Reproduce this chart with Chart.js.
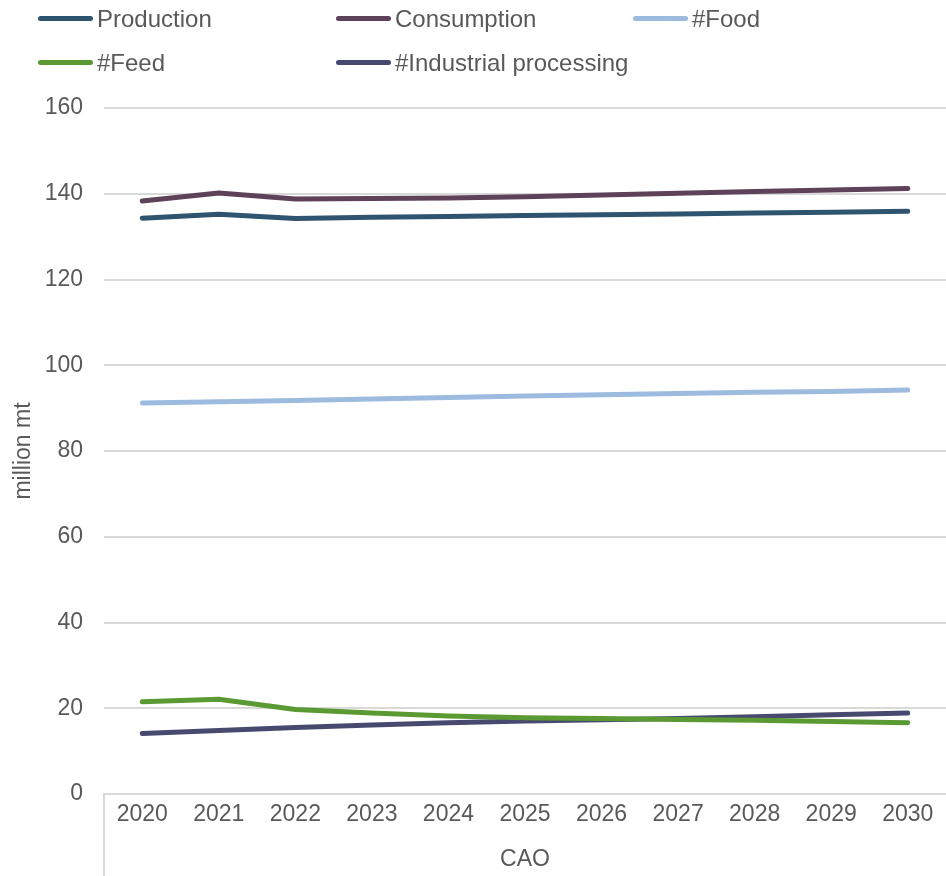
<!DOCTYPE html>
<html>
<head>
<meta charset="utf-8">
<script src="https://cdn.jsdelivr.net/npm/chart.js@4/dist/chart.umd.min.js"></script>
<style>
  html, body { margin: 0; padding: 0; background: #fff; }
  #wrap { position: relative; width: 946px; height: 876px; }
  #legend {
    position: absolute; left: 38px; top: 4px;
    display: grid; grid-template-columns: 298px 297px 280px; row-gap: 15px;
    font-family: "Liberation Sans", Arial, sans-serif; font-size: 24px; color: #595959;
  }
  .item { display: flex; align-items: center; height: 29px; }
  .swatch { width: 55px; height: 5px; border-radius: 3px; margin-right: 4px; }
</style>
</head>
<body>
<div id="wrap">
  <canvas id="chart" width="946" height="876"></canvas>
  <div id="legend"></div>
</div>
<script>
const years = ['2020', '2021', '2022', '2023', '2024', '2025', '2026', '2027', '2028', '2029', '2030'];
const production = [134.3, 135.2, 134.2, 134.5, 134.7, 134.9, 135.1, 135.3, 135.5, 135.7, 135.9];
const consumption = [138.3, 140.2, 138.8, 138.9, 139.0, 139.3, 139.7, 140.1, 140.5, 140.9, 141.2];
const food = [91.2, 91.5, 91.8, 92.1, 92.5, 92.8, 93.1, 93.4, 93.7, 93.9, 94.2];
const feed = [21.5, 22.1, 19.7, 18.9, 18.2, 17.8, 17.6, 17.4, 17.2, 16.9, 16.6];
const industrial = [14.1, 14.8, 15.5, 16.1, 16.6, 17.0, 17.3, 17.6, 18.0, 18.5, 18.9];

const seriesNames = ['Production', 'Consumption', '#Food', '#Feed', '#Industrial processing'];
const seriesColors = ['#2F5470', '#5E4259', '#9DBBDF', '#5B9A32', '#474A6E'];
const seriesData = [production, consumption, food, feed, industrial];

const textColor = '#595959';
const font = { family: '"Liberation Sans", Arial, sans-serif', size: 23 };

// Excel-style multi-level axis: left border line runs down past the axis
const categoryEdge = {
    id: 'categoryEdge',
    afterDraw(chart) {
        const { ctx, chartArea } = chart;
        ctx.save();
        ctx.strokeStyle = '#d9d9d9';
        ctx.lineWidth = 2;
        ctx.beginPath();
        ctx.moveTo(chartArea.left, chartArea.bottom);
        ctx.lineTo(chartArea.left, chart.height);
        ctx.stroke();
        ctx.restore();
    }
};

const chart = new Chart(document.getElementById('chart'), {
    type: 'line',
    data: {
        labels: years,
        datasets: seriesNames.map((name, i) => ({
            label: name,
            data: seriesData[i],
            borderColor: seriesColors[i],
            backgroundColor: seriesColors[i],
            borderWidth: 5,
            borderCapStyle: 'round',
            borderJoinStyle: 'round',
            pointRadius: 0,
            tension: 0
        }))
    },
    options: {
        responsive: false,
        animation: false,
        layout: { padding: { top: 108, left: 10, right: 0, bottom: 0 } },
        plugins: { legend: { display: false }, tooltip: { enabled: false } },
        scales: {
            x: {
                offset: true,
                grid: { display: false, tickLength: 0 },
                border: { color: '#d9d9d9', width: 2 },
                ticks: { color: textColor, font, padding: 7, maxRotation: 0 },
                title: { display: true, text: 'CAO', color: textColor, font, padding: { top: 8, bottom: 3 } },
                afterFit(scale) { scale.height = 82; }
            },
            y: {
                min: 0,
                max: 160,
                ticks: { stepSize: 20, color: textColor, font, padding: 21 },
                grid: { color: '#d9d9d9', lineWidth: 2, drawTicks: false },
                border: { display: false },
                title: { display: true, text: 'million mt', color: textColor, font, padding: { top: 0, bottom: 8 } },
                afterFit(scale) { scale.width = 94; }
            }
        }
    },
    plugins: [categoryEdge]
});

const legend = document.getElementById('legend');
chart.data.datasets.forEach(ds => {
    const item = document.createElement('div');
    item.className = 'item';
    const sw = document.createElement('span');
    sw.className = 'swatch';
    sw.style.background = ds.borderColor;
    const label = document.createElement('span');
    label.textContent = ds.label;
    item.appendChild(sw);
    item.appendChild(label);
    legend.appendChild(item);
});
</script>
</body>
</html>
